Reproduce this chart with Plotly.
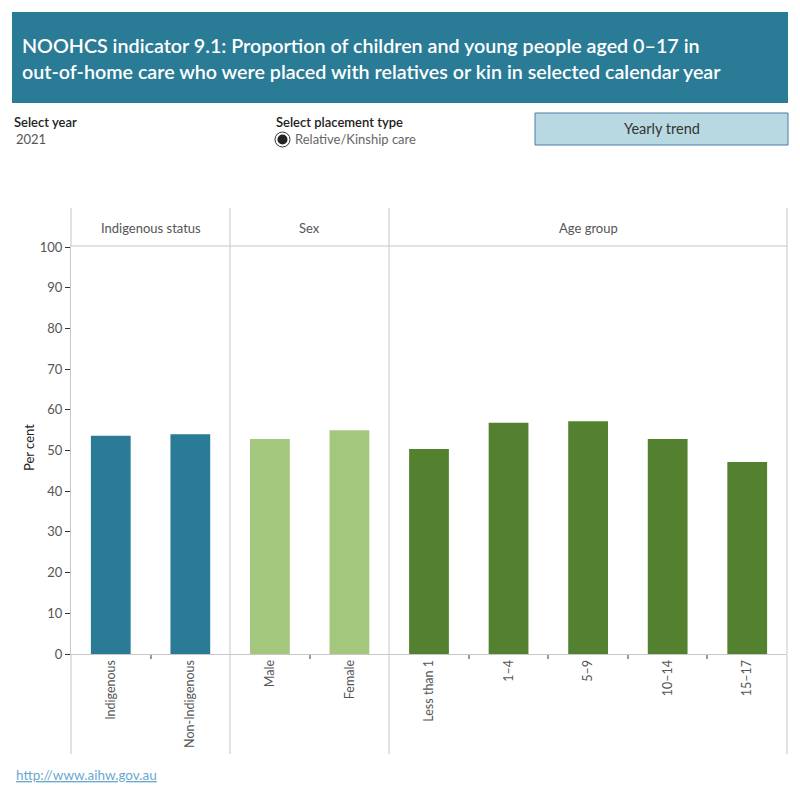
import plotly.graph_objects as go

# ---- data ----
categories = ["Indigenous", "Non-Indigenous", "Male", "Female",
              "Less than 1", "1–4", "5–9", "10–14", "15–17"]
groups = ["Indigenous status", "Indigenous status", "Sex", "Sex",
          "Age group", "Age group", "Age group", "Age group", "Age group"]
values = [53.6, 54.0, 52.8, 55.0, 50.4, 56.8, 57.2, 52.8, 47.2]
group_names = ["Indigenous status", "Sex", "Age group"]
group_colors = {"Indigenous status": "#2a7b96", "Sex": "#a3c77c", "Age group": "#538130"}
y_ticks = [0, 10, 20, 30, 40, 50, 60, 70, 80, 90, 100]

# ---- layout geometry (pixels) ----
L, R, T, B = 71, 787, 246, 654
W, H = R - L, B - T
FONT = "Lato"


def xp(px):
    return (px - L) / W


def yp(py):
    return (B - py) / H


fig = go.Figure()
fig.add_trace(go.Bar(
    x=categories, y=values, width=0.5,
    marker=dict(color=[group_colors[g] for g in groups], line=dict(width=0)),
    showlegend=False, hoverinfo="x+y",
))

shapes = []
annotations = []

# Title banner
shapes.append(dict(type="rect", xref="paper", yref="paper",
                   x0=xp(12), x1=xp(788), y0=yp(103), y1=yp(12),
                   fillcolor="#2a7b96", line=dict(width=0), layer="below"))
annotations.append(dict(xref="paper", yref="paper", x=xp(20), y=yp(58),
                        xanchor="left", yanchor="middle", showarrow=False, align="left",
                        text="NOOHCS indicator 9.1: Proportion of children and young people aged 0–17 in<br>"
                             "out-of-home care who were placed with relatives or kin in selected calendar year",
                        font=dict(family=FONT, size=19.7, color="white", weight=600)))

# Controls
annotations.append(dict(xref="paper", yref="paper", x=xp(12), y=yp(122), xanchor="left", yanchor="middle",
                        showarrow=False, text="Select year",
                        font=dict(family=FONT, size=13, color="#222", weight=600)))
annotations.append(dict(xref="paper", yref="paper", x=xp(14), y=yp(139), xanchor="left", yanchor="middle",
                        showarrow=False, text="2021", font=dict(family=FONT, size=13, color="#555")))
annotations.append(dict(xref="paper", yref="paper", x=xp(274), y=yp(122), xanchor="left", yanchor="middle",
                        showarrow=False, text="Select placement type",
                        font=dict(family=FONT, size=13, color="#222", weight=600)))
annotations.append(dict(xref="paper", yref="paper", x=xp(293), y=yp(139), xanchor="left", yanchor="middle",
                        showarrow=False, text="Relative/Kinship care", font=dict(family=FONT, size=13, color="#666")))
shapes.append(dict(type="circle", xref="paper", yref="paper",
                   x0=xp(275), x1=xp(290), y0=yp(147), y1=yp(132),
                   fillcolor="white", line=dict(color="#333", width=1)))
shapes.append(dict(type="circle", xref="paper", yref="paper",
                   x0=xp(277.5), x1=xp(287.5), y0=yp(144.5), y1=yp(134.5),
                   fillcolor="#222", line=dict(width=0)))
shapes.append(dict(type="rect", xref="paper", yref="paper",
                   x0=xp(535), x1=xp(788), y0=yp(145), y1=yp(113),
                   fillcolor="#b8d9e2", line=dict(color="#4f7aa6", width=1)))
annotations.append(dict(xref="paper", yref="paper", x=xp(661.5), y=yp(129), xanchor="center", yanchor="middle",
                        showarrow=False, text="Yearly trend", font=dict(family=FONT, size=14.5, color="#333")))

# Panel structure
panel_edges = [71, 230, 389, 787]
for x in panel_edges:
    shapes.append(dict(type="line", xref="paper", yref="paper", x0=xp(x), x1=xp(x),
                       y0=yp(208), y1=yp(246), line=dict(color="#e2e2e2", width=2)))
    shapes.append(dict(type="line", xref="paper", yref="paper", x0=xp(x), x1=xp(x),
                       y0=yp(655), y1=yp(754), line=dict(color="#e2e2e2", width=2)))
for x in panel_edges[1:]:
    shapes.append(dict(type="line", xref="paper", yref="paper", x0=xp(x), x1=xp(x),
                       y0=yp(654), y1=yp(246), line=dict(color="#c8c8c8", width=1)))
shapes.append(dict(type="line", xref="paper", yref="paper", x0=xp(71), x1=xp(787),
                   y0=yp(246), y1=yp(246), line=dict(color="#c8c8c8", width=1)))

header_centers = [(panel_edges[i] + panel_edges[i + 1]) / 2 for i in range(3)]
for name, cx in zip(group_names, header_centers):
    annotations.append(dict(xref="paper", yref="paper", x=xp(cx), y=yp(228), xanchor="center", yanchor="middle",
                            showarrow=False, text=name, font=dict(family=FONT, size=13, color="#555")))

# Y-axis title
annotations.append(dict(xref="paper", yref="paper", x=xp(29), y=yp(448), xanchor="center", yanchor="middle",
                        showarrow=False, text="Per cent", textangle=-90,
                        font=dict(family=FONT, size=13, color="#222")))

# Link
annotations.append(dict(xref="paper", yref="paper", x=xp(14), y=yp(775), xanchor="left", yanchor="middle",
                        showarrow=False, text="<u>http://www.aihw.gov.au</u>",
                        font=dict(family=FONT, size=13.5, color="#6aa9cf")))

fig.update_layout(
    width=800, height=800,
    margin=dict(l=L, r=800 - R, t=T, b=800 - B, pad=0),
    paper_bgcolor="white", plot_bgcolor="white",
    bargap=0.5,
    shapes=shapes, annotations=annotations,
    xaxis=dict(type="category", range=[-0.5, len(categories) - 0.5],
               showline=True, linecolor="#c8c8c8", linewidth=1,
               ticks="outside", tickson="boundaries", ticklen=4, tickcolor="#999", tickwidth=2,
               tickangle=-90, showgrid=False, zeroline=False,
               tickfont=dict(family=FONT, size=12.5, color="#555")),
    yaxis=dict(range=[0, 100.25], tickvals=y_ticks, showline=True, linecolor="#c8c8c8", linewidth=1,
               ticks="outside", ticklen=5, tickcolor="#333", tickwidth=1,
               showgrid=False, zeroline=False,
               tickfont=dict(family=FONT, size=13, color="#555")),
    font=dict(family=FONT),
)

fig.write_html("out.html")
